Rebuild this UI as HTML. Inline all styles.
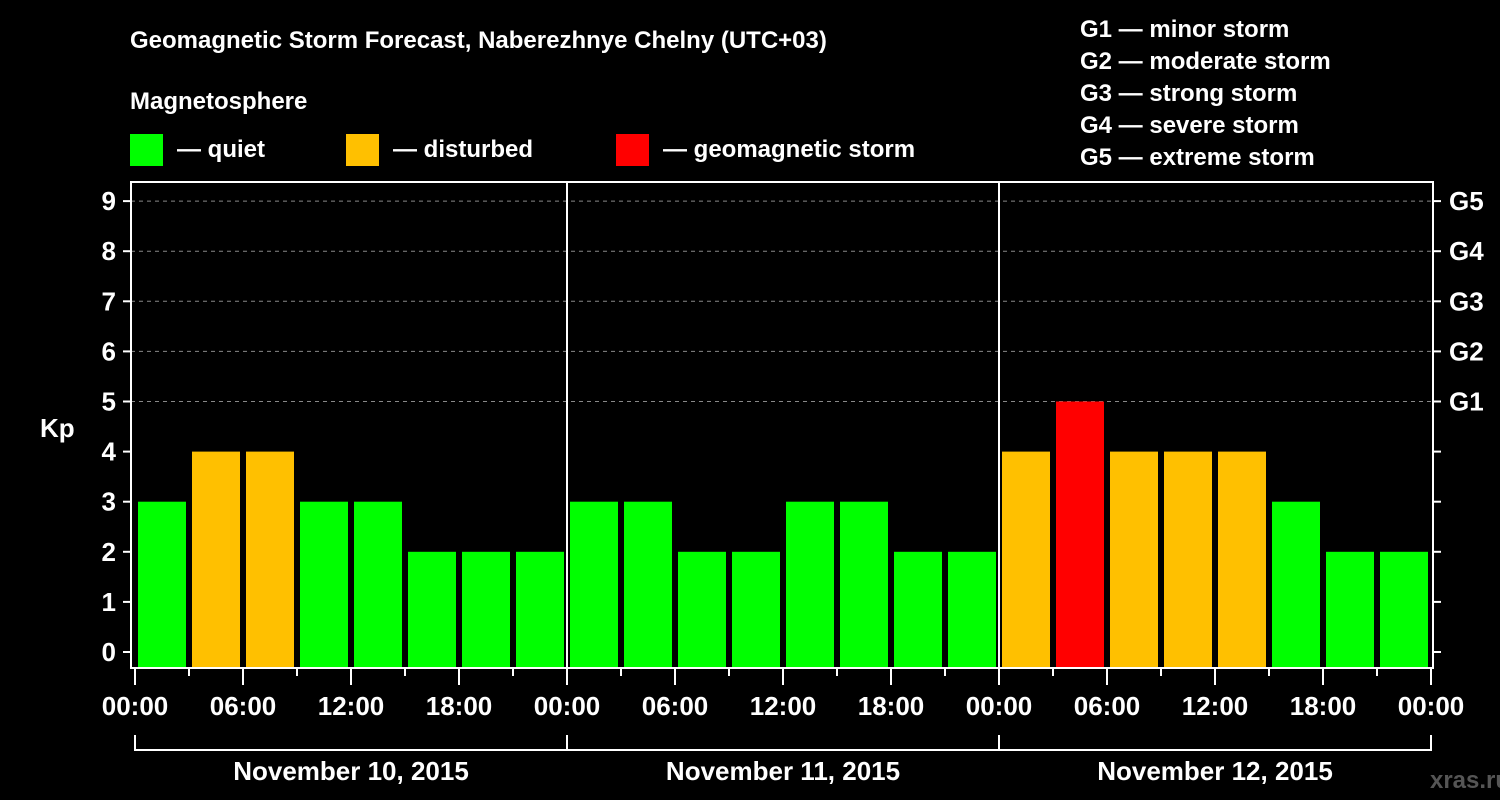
<!DOCTYPE html>
<html><head><meta charset="utf-8"><style>
html,body{margin:0;padding:0;background:#000;}
svg{display:block;font-family:"Liberation Sans",Arial,sans-serif;font-weight:bold;}
</style></head><body>
<svg id="chart" width="1500" height="800" viewBox="0 0 1500 800">
<text x="130" y="48" fill="#fff" font-size="24">Geomagnetic Storm Forecast, Naberezhnye Chelny (UTC+03)</text>
<text x="130" y="109" fill="#fff" font-size="24">Magnetosphere</text>
<g><rect x="130" y="134" width="33" height="32" fill="#00ff00"/><text x="177" y="157" fill="#fff" font-size="24">— quiet</text></g>
<g><rect x="346" y="134" width="33" height="32" fill="#ffc000"/><text x="393" y="157" fill="#fff" font-size="24">— disturbed</text></g>
<g><rect x="616" y="134" width="33" height="32" fill="#ff0000"/><text x="663" y="157" fill="#fff" font-size="24">— geomagnetic storm</text></g>
<g fill="#fff" font-size="24">
<text x="1080" y="37">G1 — minor storm</text>
<text x="1080" y="69">G2 — moderate storm</text>
<text x="1080" y="101">G3 — strong storm</text>
<text x="1080" y="133">G4 — severe storm</text>
<text x="1080" y="165">G5 — extreme storm</text>
</g>
<text x="40" y="437" fill="#fff" font-size="26">Kp</text>
<text x="1470" y="788" fill="#555" font-size="24" text-anchor="middle">xras.ru</text>
<g id="plot"></g>
</svg>
<script>
const days = ["November 10, 2015","November 11, 2015","November 12, 2015"];
const kpValues = [3,4,4,3,3,2,2,2, 3,3,2,2,3,3,2,2, 4,5,4,4,4,3,2,2];
const yTicks = [0,1,2,3,4,5,6,7,8,9];
const gLabels = ["G1","G2","G3","G4","G5"];
const gLevels = [5,6,7,8,9];
const hourLabels = ["00:00","06:00","12:00","18:00"];

const NS="http://www.w3.org/2000/svg";
const plot=document.getElementById('plot');
const L=131,R=1433,T=182,B=668,X0=135,DAYW=432;
const xh=h=>X0+h*DAYW/24;
const y=v=>652-v*50.1;
function mk(tag,attrs,parent){const e=document.createElementNS(NS,tag);for(const k in attrs)e.setAttribute(k,attrs[k]);(parent||plot).appendChild(e);return e;}
function color(v){return v>=5?"#ff0000":(v>=4?"#ffc000":"#00ff00");}

// grid
gLevels.forEach((lv,i)=>{
  const g=mk('line',{x1:L,x2:R,y1:y(lv),y2:y(lv),stroke:"#888","stroke-dasharray":"4,4","stroke-width":1});
  
  
  const t=mk('text',{x:1449,y:y(lv)+9,fill:"#fff","font-size":26});
  t.textContent=gLabels[i];
  
  
});
// bars
kpValues.forEach((v,i)=>{
  const x=xh(i*3)+3;
  const r=mk('rect',{x:x,y:y(v),width:48,height:B-y(v),fill:color(v)});
  
  
});
// frame
mk('rect',{x:L,y:T,width:R-L,height:B-T,fill:"none",stroke:"#fff","stroke-width":2});
days.forEach((d,i)=>{
  if(i>0){const s=mk('line',{x1:xh(24*i),x2:xh(24*i),y1:T,y2:B,stroke:"#fff","stroke-width":2});
    
    }
  const bx=mk('path',{d:`M${xh(24*i)} 735V750H${xh(24*(i+1))}V735`,fill:"none",stroke:"#fff","stroke-width":2});
  
  
  const t=mk('text',{x:xh(24*i+12),y:780,fill:"#fff","font-size":26,"text-anchor":"middle"});
  t.textContent=d;
  
  
});
// y ticks
yTicks.forEach(v=>{
  mk('line',{x1:123,x2:L,y1:y(v),y2:y(v),stroke:"#fff","stroke-width":2});
  mk('line',{x1:R,x2:1441,y1:y(v),y2:y(v),stroke:"#fff","stroke-width":2});
  const t=mk('text',{x:116,y:y(v)+9,fill:"#fff","font-size":26,"text-anchor":"end"});
  t.textContent=v;
  
  
});
// x ticks
for(let h=0;h<=72;h+=3){
  const major=h%6===0;
  mk('line',{x1:xh(h),x2:xh(h),y1:B,y2:major?685:676,stroke:"#fff","stroke-width":2});
  if(major && (h%24)%6===0 && (h%24===0 || true)){
    const idx=(h%24)/6;
    const lbl=hourLabels[idx];
    const t=mk('text',{x:xh(h),y:715,fill:"#fff","font-size":26,"text-anchor":"middle"});
    t.textContent=lbl;
    
    
  }
}
</script>
</body></html>
